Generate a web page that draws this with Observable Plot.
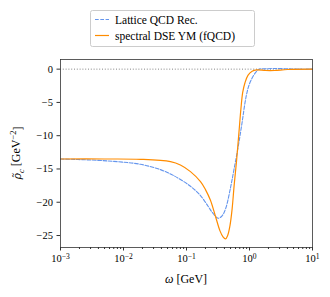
<!DOCTYPE html>
<html><head><meta charset="utf-8">
<script src="https://cdn.jsdelivr.net/npm/d3@7"></script>
<script src="https://cdn.jsdelivr.net/npm/@observablehq/plot@0.6"></script>
<style>
body{margin:0;background:#fff;}
#wrap{position:relative;width:330px;height:297px;font-family:"Liberation Serif",serif;}
#legend{position:absolute;left:90px;top:10px;}
#chart{position:absolute;left:0;top:0;}
</style></head><body><div id="wrap"><div id="chart"></div><div id="legend"></div></div>
<script>
// Lattice QCD reconstruction (blue dashed)
const latticeOmega = [0.001,0.003,0.008,0.0186,0.0386,0.0628,0.1156,0.1668,0.22,0.26,0.318,0.37,0.42,0.5,0.564,0.66,0.766,0.85,0.918,1.0,1.17,1.3,1.41,1.8,2.5,4,6,10];
const latticeRho   = [-13.5,-13.65,-13.9,-14.3,-15.1,-16.0,-17.6,-19.0,-20.6,-21.6,-22.4,-22.0,-20.9,-17.8,-15.2,-11.7,-7.9,-5.0,-3.4,-2.2,-0.9,-0.3,0.0,0.05,0.1,0.05,0.0,0.0];
// spectral DSE YM (fQCD) (orange solid)
const dseOmega = [0.001,0.005,0.0186,0.0557,0.08,0.1156,0.1668,0.2,0.24,0.288,0.34,0.38,0.416,0.45,0.49,0.53,0.57,0.62,0.68,0.73,0.78,0.85,0.95,1.1,1.3,1.8,2.5,4,10];
const dseRho   = [-13.5,-13.5,-13.55,-13.9,-14.4,-15.4,-16.9,-18.1,-19.7,-22.1,-24.3,-25.2,-25.5,-25.0,-23.5,-21.0,-17.5,-14.0,-9.5,-6.0,-3.5,-2.0,-0.9,-0.3,-0.1,-0.2,-0.2,-0.05,0];

const seriesNames = ["Lattice QCD Rec.", "spectral DSE YM (fQCD)"];
const seriesColors = ["#6495ed", "#ff8c00"];
const seriesDash = ["3.7,1.6", null];

const xTicks = [1e-3, 1e-2, 1e-1, 1, 10];
const xTickExponents = ["−3", "−2", "−1", "0", "1"];
const xMinorTicks = [];
for (let k = -3; k < 1; k++) for (let m = 2; m <= 9; m++) xMinorTicks.push(m * Math.pow(10, k));
const yTicks = [0, -5, -10, -15, -20, -25];

const lattice = latticeOmega.map((w, i) => ({omega: w, rho: latticeRho[i]}));
const dse = dseOmega.map((w, i) => ({omega: w, rho: dseRho[i]}));

const fontFam = "'Liberation Serif', serif";

const plot = Plot.plot({
  width: 330, height: 297,
  marginLeft: 60, marginRight: 18, marginTop: 59, marginBottom: 50,
  style: {fontFamily: fontFam, fontSize: "10px", color: "#000", background: "#fff"},
  x: {type: "log", domain: [1e-3, 10]},
  y: {domain: [-26.8, 1.45]},
  marks: [
    Plot.ruleY([0], {stroke: "#777", strokeWidth: 0.9, strokeDasharray: "1,1.8"}),
    Plot.line(lattice, {x: "omega", y: "rho", stroke: seriesColors[0], strokeWidth: 1.1, strokeDasharray: seriesDash[0], curve: "catmull-rom"}),
    Plot.line(dse, {x: "omega", y: "rho", stroke: seriesColors[1], strokeWidth: 1.2, curve: "catmull-rom"}),
    Plot.frame({stroke: "#333", strokeWidth: 0.8}),
    Plot.axisX(xMinorTicks, {tickSize: 2, tickFormat: () => "", label: null, stroke: "#333"}),
    Plot.axisX(xTicks, {tickSize: 3.5, tickPadding: 4, tickFormat: d => "10", label: null, fontSize: 10.5, stroke: "#333"}),
    Plot.axisY(yTicks, {tickSize: 3.5, tickPadding: 4, tickFormat: d => d === 0 ? "0" : "−" + Math.abs(d), label: null, fontSize: 10.5, stroke: "#333"})
  ]
});
document.getElementById("chart").appendChild(plot);

const svg = d3.select(plot);
// remove empty minor labels; add superscripts on major x tick labels (in tick order)
svg.selectAll('g[aria-label="x-axis tick label"]').each(function() {
  const texts = d3.select(this).selectAll("text").nodes();
  let j = 0;
  texts.forEach(node => {
    const t = d3.select(node);
    if (t.text() === "") { t.remove(); return; }
    t.text("10");
    t.append("tspan").attr("dy", "-0.45em").attr("font-size", "0.72em").text(xTickExponents[j++]);
  });
});

// x label
const xl = svg.append("text").attr("x", 186).attr("y", 283).attr("text-anchor", "middle")
  .attr("font-family", fontFam).attr("font-size", 12).attr("fill", "#000");
xl.append("tspan").attr("font-style", "italic").text("ω");
xl.append("tspan").text(" [GeV]");

// y label
const yl = svg.append("text").attr("transform", "translate(21,153) rotate(-90)").attr("text-anchor", "middle")
  .attr("font-family", fontFam).attr("font-size", 12).attr("fill", "#000");
yl.append("tspan").attr("font-style", "italic").attr("font-family", "'DejaVu Serif', serif").attr("font-size", 11).text("ρ̃");
yl.append("tspan").attr("font-style", "italic").attr("dy", "0.3em").attr("font-size", "0.72em").text("c");
yl.append("tspan").attr("dy", "-0.3em").text(" [GeV");
yl.append("tspan").attr("dy", "-0.45em").attr("font-size", "0.72em").text("−2");
yl.append("tspan").attr("dy", "0.45em").text("]");

// legend
const lg = d3.select("#legend").append("svg").attr("width", 166).attr("height", 38);
lg.append("rect").attr("x", 0.5).attr("y", 0.5).attr("width", 164).attr("height", 36).attr("rx", 2)
  .attr("fill", "#fff").attr("stroke", "#ccc");
seriesNames.forEach((name, i) => {
  const cy = 9.5 + i * 16;
  lg.append("line").attr("x1", 5).attr("x2", 19).attr("y1", cy).attr("y2", cy)
    .attr("stroke", seriesColors[i]).attr("stroke-width", 1.2)
    .attr("stroke-dasharray", seriesDash[i]);
  lg.append("text").attr("x", 25).attr("y", cy + 4).attr("font-family", fontFam).attr("font-size", 11.5)
    .attr("fill", "#000").text(name);
});
</script>
</body></html>
